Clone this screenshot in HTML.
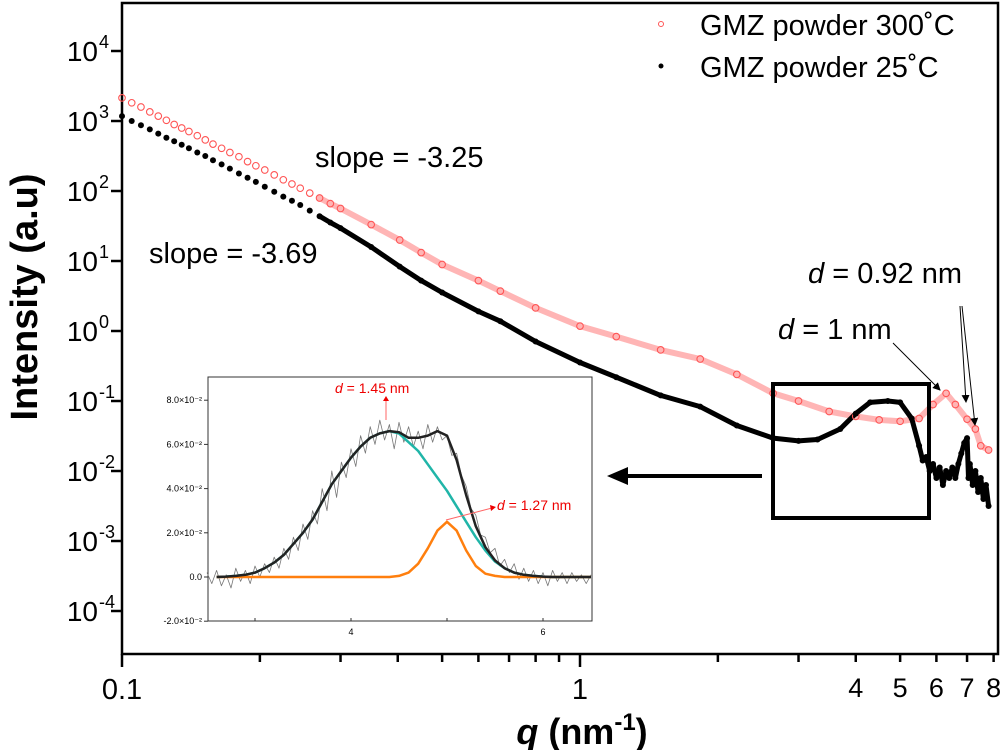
<!DOCTYPE html>
<html><head><meta charset="utf-8"><style>
html,body{margin:0;padding:0;background:#fff;}
svg{display:block;font-family:"Liberation Sans",Arial,sans-serif;}
</style></head><body>
<svg id="chart" width="1004" height="750" viewBox="0 0 1004 750" xmlns="http://www.w3.org/2000/svg">
<g id="main"></g>
<g id="inset"></g>
</svg>
<script>
// ---- main chart data (q in nm^-1, log10 intensity) ----
const qRed = [0.1,0.105,0.11,0.115,0.12,0.125,0.13,0.135,0.14,0.146,0.152,0.158,0.165,0.172,0.18,0.188,0.196,0.205,0.215,0.225,0.235,0.245,0.257,0.27,0.285,0.3,0.35,0.404,0.45,0.5,0.6,0.67,0.8,1.0,1.2,1.5,1.83,2.2,2.64,3.0,3.5,4.0,4.5,5.0,5.5,5.9,6.3,6.6,7.0,7.3,7.5,7.8];
const logRed = [3.33,3.26,3.2,3.13,3.07,3.01,2.95,2.9,2.85,2.79,2.73,2.67,2.61,2.55,2.49,2.42,2.36,2.30,2.23,2.16,2.10,2.04,1.97,1.90,1.82,1.75,1.52,1.30,1.12,0.95,0.72,0.57,0.33,0.07,-0.08,-0.27,-0.40,-0.62,-0.89,-1.0,-1.15,-1.22,-1.27,-1.29,-1.25,-1.05,-0.89,-1.05,-1.26,-1.4,-1.64,-1.7];
const qBlack = [0.1,0.105,0.11,0.115,0.12,0.125,0.13,0.135,0.14,0.146,0.152,0.158,0.165,0.172,0.18,0.188,0.196,0.205,0.215,0.225,0.235,0.245,0.257,0.27,0.285,0.3,0.35,0.404,0.45,0.5,0.6,0.67,0.8,1.0,1.2,1.5,1.83,2.2,2.64,3.0,3.3,3.7,4.0,4.3,4.7,5.0,5.3,5.5,5.6,5.7,5.8,5.9,6.0,6.1,6.2,6.3,6.4,6.5,6.6,6.7,6.8,6.9,7.0,7.05,7.1,7.2,7.3,7.4,7.5,7.6,7.7,7.8];
const logBlack = [3.07,3.0,2.94,2.88,2.82,2.76,2.71,2.66,2.61,2.55,2.5,2.44,2.38,2.32,2.25,2.19,2.13,2.06,1.99,1.92,1.86,1.80,1.72,1.64,1.55,1.47,1.20,0.92,0.72,0.55,0.28,0.14,-0.15,-0.45,-0.66,-0.92,-1.08,-1.35,-1.53,-1.57,-1.55,-1.40,-1.18,-1.02,-1.0,-1.02,-1.25,-1.64,-1.85,-1.8,-2.0,-1.9,-2.1,-1.95,-2.2,-2.0,-2.1,-1.95,-2.1,-1.9,-1.75,-1.6,-1.53,-2.1,-1.9,-2.2,-2.0,-2.3,-2.1,-2.4,-2.2,-2.5];
const yDecades = [-4,-3,-2,-1,0,1,2,3,4];
const xMajor = [0.1,1];
const xMinor = [0.2,0.3,0.4,0.5,0.6,0.7,0.8,0.9,2,3,4,5,6,7,8];
const xLabels = ["0.1","1","4","5","6","7","8"];
const xLabelVals = [0.1,1,4,5,6,7,8];

// ---- inset data ----
const insQ = [2.6,2.7,2.8,2.9,3.0,3.1,3.2,3.3,3.4,3.5,3.6,3.7,3.8,3.9,4.0,4.1,4.2,4.3,4.4,4.5,4.6,4.7,4.8,4.9,5.0,5.1,5.2,5.3,5.4,5.5,5.6,5.7,5.8,5.9,6.0,6.1,6.2,6.3,6.4,6.5];
const insCyan = [0,0.0002,0.0005,0.001,0.002,0.004,0.0065,0.010,0.015,0.020,0.026,0.034,0.042,0.048,0.054,0.059,0.063,0.065,0.066,0.065,0.061,0.057,0.051,0.045,0.039,0.032,0.025,0.018,0.012,0.007,0.004,0.002,0.001,0.0005,0.0002,0,0,0,0,0];
const insOrange = [0,0,0,0,0,0,0,0,0,0,0,0,0,0,0,0,0,0,0,0.0005,0.002,0.006,0.013,0.021,0.025,0.021,0.012,0.005,0.0015,0.0005,0,0,0,0,0,0,0,0,0,0];
const insDataQ = [2.5,2.55,2.6,2.65,2.7,2.75,2.8,2.85,2.9,2.95,3.0,3.05,3.1,3.15,3.2,3.25,3.3,3.35,3.4,3.45,3.5,3.55,3.6,3.65,3.7,3.75,3.8,3.85,3.9,3.95,4.0,4.05,4.1,4.15,4.2,4.25,4.3,4.35,4.4,4.45,4.5,4.55,4.6,4.65,4.7,4.75,4.8,4.85,4.9,4.95,5.0,5.05,5.1,5.15,5.2,5.25,5.3,5.35,5.4,5.45,5.5,5.55,5.6,5.65,5.7,5.75,5.8,5.85,5.9,5.95,6.0,6.05,6.1,6.15,6.2,6.25,6.3,6.35,6.4,6.45,6.5];
const insData = [0.002,-0.003,0.003,-0.004,0.001,-0.005,0.004,-0.002,0.003,-0.003,0.005,0.0,0.006,0.002,0.009,0.004,0.013,0.008,0.018,0.012,0.024,0.017,0.030,0.024,0.040,0.030,0.048,0.036,0.052,0.045,0.058,0.050,0.064,0.056,0.068,0.060,0.071,0.062,0.069,0.058,0.070,0.061,0.068,0.059,0.066,0.058,0.069,0.061,0.068,0.062,0.064,0.055,0.056,0.046,0.041,0.031,0.028,0.019,0.018,0.011,0.013,0.005,0.008,0.002,0.006,-0.001,0.004,-0.002,0.003,-0.003,0.002,-0.004,0.003,-0.002,0.002,-0.003,0.002,-0.002,0.001,-0.003,0.001];
const insYTicks = [-0.02,0,0.02,0.04,0.06,0.08];
const insYLabels = ["-2.0×10⁻²","0.0","2.0×10⁻²","4.0×10⁻²","6.0×10⁻²","8.0×10⁻²"];
const insXTicks = [4,6];

const NS="http://www.w3.org/2000/svg";
function mk(tag,attrs,parent,txt){const e=document.createElementNS(NS,tag);for(const k in attrs)e.setAttribute(k,attrs[k]);if(txt!==undefined)e.textContent=txt;parent.appendChild(e);return e;}
const main=document.getElementById('main');
const PL=122,PR=998,PT=3,PB=654;
const X=q=>PL+(Math.log10(q)+1)*458;
const Y=l=>331-70*l;

let fr=mk('rect',{x:PL,y:PT,width:PR-PL,height:PB-PT,fill:'none',stroke:'#000','stroke-width':2.5},main);


yDecades.forEach(d=>{
  const y=Y(d);
  let t=mk('line',{x1:PL-11,x2:PL,y1:y,y2:y,stroke:'#000','stroke-width':2.5},main);
  
  
  let tx=mk('text',{x:98,y:y+10,'text-anchor':'end','font-size':28},main,'10');
  
  
  let s=mk('text',{x:99,y:y-3,'font-size':18},main,String(d));
  
  
});
xMajor.forEach(q=>{let t=mk('line',{x1:X(q),x2:X(q),y1:PB,y2:PB+13,stroke:'#000','stroke-width':2.5},main);
  
  });
xMinor.forEach(q=>{let t=mk('line',{x1:X(q),x2:X(q),y1:PB,y2:PB+8,stroke:'#000','stroke-width':2.5},main);
  
  });
xLabels.forEach((l,i)=>{const big=i<2;let t=mk('text',{x:X(xLabelVals[i]),y:big?699:697,'text-anchor':'middle','font-size':big?29:27},main,l);
  
  });
let yt=mk('text',{x:0,y:0,transform:'translate(37,297) rotate(-90)','text-anchor':'middle','font-size':38,'font-weight':'bold'},main,'Intensity (a.u)');


let xt=mk('text',{x:582,y:744,'text-anchor':'middle','font-size':36,'font-weight':'bold'},main);


mk('tspan',{'font-style':'italic'},xt,'q');
mk('tspan',{},xt,' (nm');
mk('tspan',{dy:-14,'font-size':24},xt,'-1');
mk('tspan',{dy:14},xt,')');

function band(qs,ls,color,w,name,qmin){
  const pts=[];qs.forEach((q,i)=>{if(q>=qmin)pts.push(X(q).toFixed(1)+','+Y(ls[i]).toFixed(1));});
  let p=mk('polyline',{points:pts.join(' '),fill:'none',stroke:color,'stroke-width':w,'stroke-linejoin':'round','stroke-linecap':'round'},main);
  
  
}
band(qRed,logRed,'rgba(255,90,90,0.45)',6,'series-300c-band',0.26);
band(qBlack,logBlack,'#000',5,'series-25c-band',0.26);
qRed.forEach((q,i)=>{let c=mk('circle',{cx:X(q),cy:Y(logRed[i]),r:3.3,fill:'none',stroke:'#f55','stroke-width':1.1},main);
  
  });
qBlack.forEach((q,i)=>{let c=mk('circle',{cx:X(q),cy:Y(logBlack[i]),r:3,fill:'#000'},main);
  
  });

let lg=mk('g',{},main);


let l1=mk('circle',{cx:661,cy:24,r:2.5,fill:'none',stroke:'#f55','stroke-width':1},lg);


let l1t=mk('text',{x:700,y:35,'font-size':29},lg,'GMZ powder 300˚C');


let l2=mk('circle',{cx:661,cy:66,r:2.5,fill:'#000'},lg);


let l2t=mk('text',{x:700,y:77,'font-size':29},lg,'GMZ powder 25˚C');



let s1=mk('text',{x:315,y:167,'font-size':29},main,'slope = -3.25');


let s2=mk('text',{x:149,y:263,'font-size':29},main,'slope = -3.69');


let d1=mk('text',{x:808,y:283,'font-size':29},main);


mk('tspan',{'font-style':'italic'},d1,'d');mk('tspan',{},d1,' = 0.92 nm');
let d2=mk('text',{x:778,y:339,'font-size':29},main);


mk('tspan',{'font-style':'italic'},d2,'d');mk('tspan',{},d2,' = 1 nm');
const defs=mk('defs',{},main);
const mkr=mk('marker',{id:'ah',markerWidth:8,markerHeight:8,refX:7,refY:4,orient:'auto',markerUnits:'userSpaceOnUse'},defs);
mk('path',{d:'M0,0 L8,4 L0,8 Z',fill:'#000'},mkr);
[[893,343,940,390],[960,306,966,402],[962,306,975,425]].forEach(a=>{
  let l=mk('line',{x1:a[0],y1:a[1],x2:a[2],y2:a[3],stroke:'#000','stroke-width':1,'marker-end':'url(#ah)'},main);
  
  
});
let zb=mk('rect',{x:773,y:384,width:156,height:134,fill:'none',stroke:'#000','stroke-width':4},main);


let za=mk('line',{x1:762,y1:476,x2:625,y2:476,stroke:'#000','stroke-width':4},main);


let zh=mk('path',{d:'M607,476 L628,467 L628,485 Z',fill:'#000'},main);



// ---- inset ----
const ins=document.getElementById('inset');
const IL=208,IR=592,IT=377,IB=621;
const IX=q=>351+(q-4)*96;
const IY=v=>577-v/0.02*44.2;
let ibg=mk('rect',{x:IL,y:IT,width:IR-IL,height:IB-IT,fill:'#fff',stroke:'#333','stroke-width':1},ins);


insYTicks.forEach((v,i)=>{
  let t=mk('line',{x1:IL-4,x2:IL,y1:IY(v),y2:IY(v),stroke:'#333','stroke-width':1},ins);
  
  
  let tx=mk('text',{x:IL-6,y:IY(v)+3,'text-anchor':'end','font-size':9},ins,insYLabels[i]);
  
  
});
[3,4,5,6].forEach(q=>{let t=mk('line',{x1:IX(q),x2:IX(q),y1:IB,y2:IB-3,stroke:'#333','stroke-width':1},ins);
  
  });
insXTicks.forEach(q=>{let t=mk('text',{x:IX(q),y:IB+14,'text-anchor':'middle','font-size':9},ins,String(q));
  
  });
function iline(qs,vs,color,w,name){
  const pts=qs.map((q,i)=>IX(q).toFixed(1)+','+IY(vs[i]).toFixed(1)).join(' ');
  let p=mk('polyline',{points:pts,fill:'none',stroke:color,'stroke-width':w,'stroke-linejoin':'round'},ins);
  
  
}
iline(insDataQ,insData,'#777',0.8,'inset-raw-data');
iline(insQ,insCyan,'#20b5a8',2.5,'inset-peak-1');
iline(insQ,insOrange,'#ff7f0e',2.5,'inset-peak-2');
iline(insQ,insQ.map((q,i)=>insCyan[i]+insOrange[i]),'#222',2.5,'inset-fit-total');
let a1=mk('text',{x:335,y:393,'font-size':14,fill:'#e00'},ins);


mk('tspan',{'font-style':'italic'},a1,'d');mk('tspan',{},a1,' = 1.45 nm');
let a2=mk('text',{x:497,y:510,'font-size':14,fill:'#e00'},ins);


mk('tspan',{'font-style':'italic'},a2,'d');mk('tspan',{},a2,' = 1.27 nm');
let ar1=mk('line',{x1:386,y1:420,x2:386,y2:400,stroke:'#f66','stroke-width':1},ins);


mk('path',{d:'M383,401 L386,396 L389,401 Z',fill:'#e00'},ins);
let ar2=mk('line',{x1:446,y1:520,x2:492,y2:508,stroke:'#f66','stroke-width':1},ins);


mk('path',{d:'M490,505 L496,507 L491,511 Z',fill:'#e00'},ins);
</script>
</body></html>
